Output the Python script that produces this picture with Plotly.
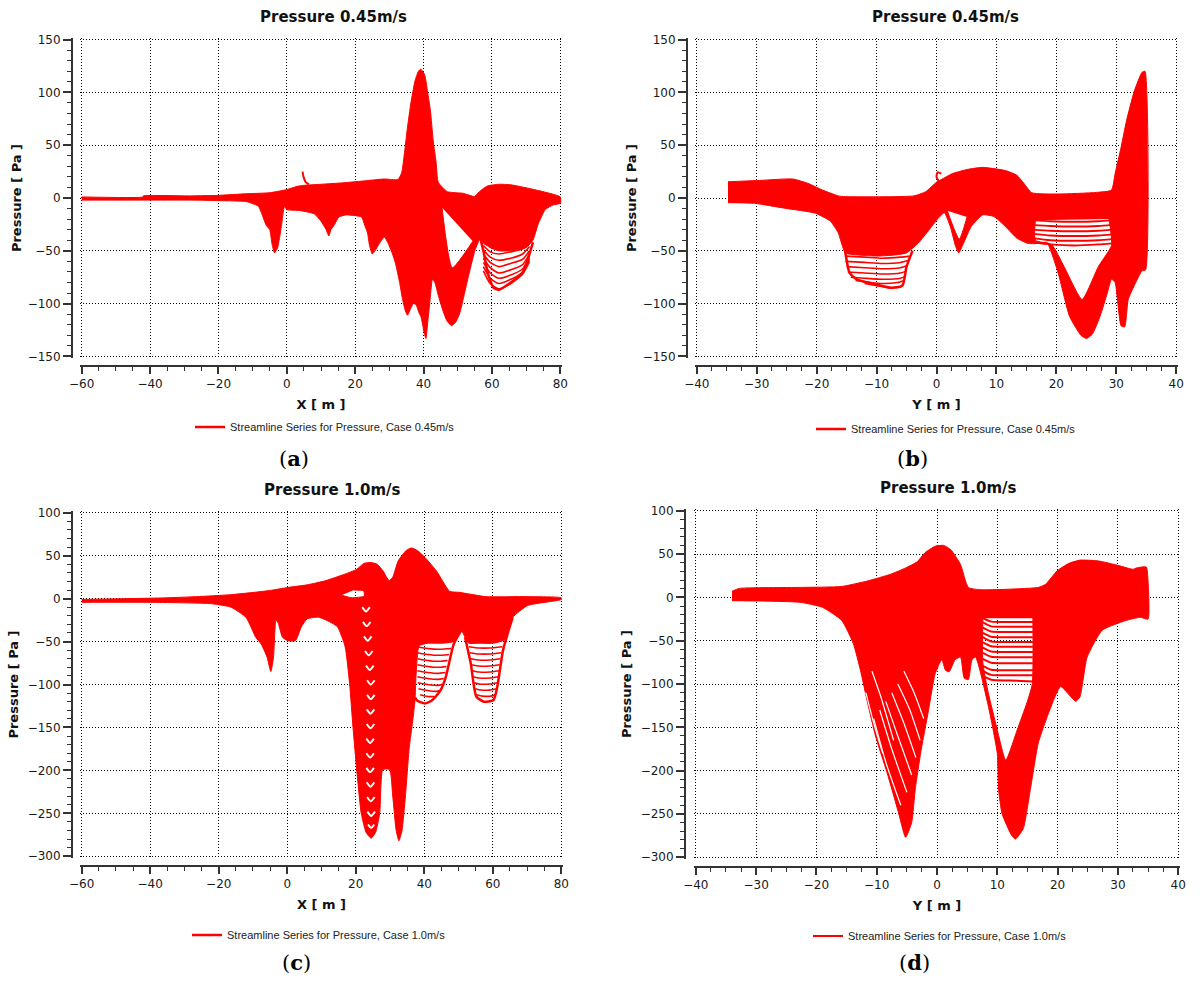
import plotly.graph_objects as go

RED = "#ff0000"

# ---------------- Panel (a): Pressure 0.45 m/s vs X ----------------
a_body_x = [-60, -42, -42, -28, -20, -12, -5, 0, 3, 5, 10, 17, 22, 28.6, 32.5, 33.6, 34.5, 35.3, 36.3, 37.5,
            38.5, 39.2, 40.3, 41.2, 42, 42.8, 43.7, 44.3, 47, 51.5, 54.9, 56, 57.5, 58.8, 62, 65.5, 73, 80,
            80, 78, 75.6, 73.5, 72, 70, 66, 62, 59.5, 57.2, 56.6, 55, 53, 52, 50.5, 49.3, 48.2, 46.8, 45.5, 44.3,
            43.3, 42.6, 41.8, 41.3, 40.7, 40.2, 39.8, 39.2, 38.7, 37.8, 37, 36.2, 35.3, 34.7, 33.8, 33, 31.8, 30.8,
            29.5, 28.6, 27.7, 26.9, 25.8, 25, 24.2, 23.6, 22.6, 21.9, 19.5, 17.4, 15.2, 14, 12.9, 12.3, 11.5, 10,
            8, 4, 0, -0.7, -1.6, -2.7, -3.6, -4.3, -5, -6, -8.3, -11.7, -20, -28, -42, -60]
a_body_y = [1, 1, 2, 2, 2.5, 4, 5, 8, 11, 12, 13, 14.5, 16, 18, 17.5, 24, 45, 67, 90, 111,
            120, 122, 117, 100, 83, 55, 33, 15, 6, 4.5, 1.5, 5, 9, 11.5, 13, 12.5, 7.5, 1,
            -5, -6.5, -11, -25, -40, -47, -50, -50, -47, -42, -38, -50, -76, -90, -110, -118, -121, -116, -105, -92,
            -80, -77, -100, -115, -133, -128, -121, -112, -109, -101, -100, -105, -111, -107, -95, -80, -62, -52,
            -42, -37, -40, -44, -50, -53, -45, -33, -24, -18, -16.5, -16, -18, -25, -30, -36, -30, -22,
            -15, -12, -11, -8, -27, -47, -52, -44, -30, -26, -8, -3.5, -2.5, -2, -2, -2]
a_hole_x = [45.4, 48.4, 54.4]
a_hole_y = [-9, -66, -41]
a_spike_x = [4.6, 4.9, 5.5, 6.5]
a_spike_y = [25, 20, 15, 13]
a_lobe_x = [56.6, 57.5, 58.8, 60.5, 62, 65.5, 68.9, 70.5, 72]
a_lobe_y = [-38, -50, -71, -85, -87, -80, -71, -58, -42]
a_stripe_x = [57.5, 59.5, 62, 65.5, 69, 71]
a_stripe_y = [[-45, -51, -53, -51, -48, -42],
              [-49, -56, -59, -57, -53, -46],
              [-53, -61, -65, -62, -58, -50],
              [-57, -66, -71, -68, -63, -53],
              [-61, -71, -76, -73, -67, -56],
              [-65, -76, -81, -77, -70, -58],
              [-69, -81, -86, -81, -72, -60]]

# ---------------- Panel (b): Pressure 0.45 m/s vs Y ----------------
b_body_x = [-34.8, -30, -24, -21.5, -19, -16.4, -15.2, -3.8, -1.8, 0, 1.3, 2.6, 5.1, 7.7, 11.5, 13.4, 14.6,
            15.9, 20.3, 26.7, 29.2, 29.8, 30.8, 31.7, 33, 34.3, 34.8,
            34.9, 34.3, 33, 32, 31.4, 30.8, 29.8, 29.2, 28.5, 27.3, 26, 25, 24.1, 22.2, 20.3, 18.4, 17.2, 15.3,
            13.4, 11.5, 9.6, 7.7, 5.8, 4.5, 3.7, 3.2, 2.3, 1.3, 0, -1.2, -3.1, -5, -7, -10, -13, -15.2, -16.4,
            -17.7, -20.2, -25.3, -30.4, -34.8]
b_body_y = [15.4, 16.5, 18, 14, 7.5, 2, 1.3, 2, 6, 15, 19, 23, 27, 29, 26, 21.6, 13.8,
            5, 3.8, 5.3, 7.5, 23, 48, 73, 101, 119, 120,
            -68, -69, -83, -96, -122, -121, -80, -77, -90, -112, -129, -133, -130, -112, -71, -42, -43, -43,
            -38, -27, -17.6, -16, -27, -43, -52, -46, -27, -14, -21, -30, -43, -52, -54, -55, -54, -52, -33,
            -22, -14.4, -9.7, -5, -4.4]
b_hole1_x = [1.8, 3.8, 5.1]
b_hole1_y = [-12, -39, -18]
b_hole2_x = [16.5, 16.5, 19.2, 21.3, 24.3, 27, 29.2, 28.8]
b_hole2_y = [-21, -40, -44, -65, -96, -65, -45, -20]
b_spike_x = [0.5, 0, 0.2, 0.8]
b_spike_y = [15, 20, 24.5, 23]
b_rstripe_x = [16, 19, 23, 27, 29.3]
b_rstripe_y = [[-21, -22, -22.5, -22, -21],
               [-25.5, -26.5, -27, -26.5, -25.5],
               [-30, -31, -31.5, -31, -30],
               [-34, -35.5, -36, -35.5, -34.5],
               [-38, -40, -40.5, -40, -39],
               [-42, -44, -45, -44, -43]]
b_lobe_x = [-15.5, -15.2, -14.5, -13.3, -10, -7.6, -5.7, -5, -4]
b_lobe_y = [-40, -52, -71, -77, -82, -85, -83, -65, -50]
b_lstripe_x = [[-15.2, -12, -9, -6, -4.5],
               [-15.2, -12, -9, -6, -4.6],
               [-15, -12, -9, -6, -4.8],
               [-14.8, -12, -9, -6, -5],
               [-14.3, -12, -9, -6, -5.2],
               [-13.5, -11, -9, -6.5, -5.4],
               [-12, -10, -7.6, -6, -5.6]]
b_lstripe_y = [[-55, -56, -57, -56, -55],
               [-60, -61, -62, -61, -59],
               [-65, -66, -67, -66, -64],
               [-70, -71, -72, -71, -69],
               [-75, -76, -77, -76, -74],
               [-78, -80, -81, -80, -78],
               [-81, -83, -85, -84, -82]]

# ---------------- Panel (c): Pressure 1.0 m/s vs X ----------------
c_body_x = [-60, -36.4, -26.4, -16.4, -5.3, 0.2, 5.8, 11.3, 16.9, 20.2, 22.4, 24.5, 26.3, 28, 29.7, 30.8, 32.4,
            34.7, 36.3, 38, 40.2, 43.6, 47.4, 50.2, 58, 70.2, 80,
            80, 70.2, 65.8, 63.5, 60, 56, 53, 51.9, 50.8, 48.6, 45, 41, 38.5, 37.6, 37.3, 36.6, 35.6, 34.5, 33.5,
            32.6, 31.8, 30.8, 29.9, 27.9, 27, 25.8, 24.5, 23, 21.6, 20.3, 19.2, 18.2, 16.9, 14.7, 12.4, 9.1,
            5.8, 4.1, 2.4, 0.2, -1.4, -2.6, -3.3, -4, -4.8, -5.9, -7.6, -9.2, -12, -16.4, -22, -40, -60]
c_body_y = [-1, 0.8, 2.3, 4.6, 9.3, 13, 16, 21, 28.6, 34, 41, 42, 40, 32, 21, 25, 44,
            56, 59, 56, 48, 32, 8.5, 7.3, 2.3, 2.3, 1,
            -1, -8, -22, -48, -52, -52, -52, -45, -37, -50, -52, -52, -55, -90, -118, -143, -174, -230, -270,
            -282, -270, -230, -199, -199, -250, -272, -279, -272, -250, -200, -150, -99, -56, -33, -27, -21.6,
            -23.6, -33, -49, -49, -45, -29, -25, -68, -85, -68, -53, -45, -22, -10, -6, -4.3, -4.3]
c_hole_x = [15.8, 19, 22.5, 22.3, 19.5]
c_hole_y = [4, 1, 3, 9, 10]
c_chev_x = [[21.9, 23.0, 24.1], [22.1, 23.2, 24.3], [22.4, 23.5, 24.6], [22.7, 23.8, 24.9],
            [23.0, 24.1, 25.2], [23.3, 24.4, 25.5], [23.3, 24.4, 25.5], [23.2, 24.3, 25.4],
            [23.2, 24.3, 25.4], [23.1, 24.2, 25.3], [23.1, 24.2, 25.3], [23.1, 24.2, 25.3],
            [23.2, 24.3, 25.4], [23.3, 24.4, 25.5], [23.4, 24.5, 25.6], [23.6, 24.5, 25.4]]
c_chev_y = [[-10, -15, -10], [-27, -32, -27], [-44, -49, -44], [-61, -66, -61],
            [-78, -83, -78], [-95, -100, -95], [-112, -117, -112], [-129, -134, -129],
            [-146, -151, -146], [-163, -168, -163], [-180, -185, -180], [-197, -202, -197],
            [-214, -219, -214], [-231, -236, -231], [-248, -253, -248], [-263, -267, -263]]
c_lobe1_x = [37.3, 38, 40.2, 42.4, 44.7, 46.3, 48.6, 50.8]
c_lobe1_y = [-115, -119, -122, -118, -107, -91, -53, -37]
c_stripe1_x = [[37.8, 41, 44, 47.8], [37.9, 41, 44, 47.2], [38.0, 41, 44, 46.8], [38.0, 41, 44, 46.5],
               [38.0, 41, 44, 46.2], [38.0, 41, 44, 45.7], [38.1, 41, 44, 45.2], [38.3, 41, 43.5, 44.8],
               [38.8, 41, 43]]
c_stripe1_y = [[-56, -58, -59, -58], [-63, -65, -66, -65], [-70, -72, -73, -72], [-77, -79, -80, -79],
               [-84, -86, -87, -86], [-91, -93, -94, -93], [-98, -100, -101, -100], [-105, -107, -108, -107],
               [-112, -114, -114]]
c_lobe2_x = [51.9, 53.6, 55.2, 57.4, 60.2, 61.3, 63, 65.8]
c_lobe2_y = [-45, -76, -114, -120, -118, -103, -60, -22]
c_stripe2_x = [[53.0, 56, 59, 62.8], [53.3, 56, 59, 62.5], [53.5, 56, 59, 62.2], [53.7, 56, 59, 62],
               [54.0, 56, 59, 61.8], [54.3, 56, 59, 61.6], [54.6, 56, 59, 61.4], [54.9, 56.5, 59, 61.2],
               [55.2, 57, 59.5, 60.8]]
c_stripe2_y = [[-56, -57.5, -57.5, -56], [-63, -64.5, -64.5, -63], [-70, -71.5, -71.5, -70],
               [-77, -78.5, -78.5, -77], [-84, -85.5, -85.5, -84], [-91, -92.5, -92.5, -91],
               [-98, -99.5, -99.5, -98], [-105, -106.5, -106.5, -105], [-112, -113.5, -113.5, -112]]

# ---------------- Panel (d): Pressure 1.0 m/s vs Y ----------------
d_body_x = [-34, -32.8, -22.7, -15.8, -11.5, -7.7, -5.2, -3.3, -2, -0.3, 1.1, 2.3, 3.9, 5.2, 7.4, 16.8, 18,
            19.9, 21.8, 23.7, 26.8, 30, 32.5, 33.1, 34.7, 35, 35,
            33.7, 31.2, 27.4, 24.9, 23.7, 23, 20.5, 18.7, 16.8, 15.5, 14.3, 13, 12.4, 10.8, 10.2, 10.0, 8.4,
            6.4, 5.8, 5.2, 4.5, 3.9, 3.0, 2.0, 1.4, 0.8, -0.3, -1.4, -2.7, -3.6, -4.2, -5.2, -6.4, -8.3, -10.2,
            -11.5, -12.7, -13.9, -15.8, -19, -22.7, -34]
d_body_y = [7, 10.3, 11.5, 12.6, 19, 26.7, 34, 41, 51.5, 59, 60, 55, 38, 11.5, 8.8, 11.5, 15,
            30.5, 39, 43, 42, 37, 32.4, 34, 35, 19, -25,
            -23, -27, -38, -69, -115, -120, -103, -130, -168, -221, -267, -279, -275, -250, -221, -180, -122,
            -69, -72, -95, -93, -69, -72, -86, -84, -72, -88, -130, -179, -221, -260, -277, -248, -202, -160,
            -122, -84, -53, -26.7, -11.5, -5.7, -3.8]
d_hole_x = [7.6, 7.6, 8.5, 9.9, 11.4, 13.3, 14.9, 15.8, 15.9]
d_hole_y = [-24, -75, -110, -150, -188, -153, -122, -100, -24]
d_stripe_x = [7.6, 9.0, 12.0, 15.9]
d_stripe_y = [[-24, -28, -28.5, -28.5], [-29, -33.5, -34, -34], [-35, -39.5, -40, -40],
              [-41, -45.5, -46, -46], [-46, -51, -51.5, -51.5], [-52, -56.5, -57, -57],
              [-58, -62.5, -63, -63], [-64, -68.5, -69, -69], [-71, -75.5, -76, -76],
              [-79, -83.5, -84, -84], [-85, -89.5, -90, -90], [-91, -95, -96, -97]]
d_streak_x = [[-10.5, -8.5, -6.0], [-9.5, -7.5, -5.0], [-8.5, -6.5, -4.2], [-7.5, -5.5, -3.5],
              [-6.5, -4.5, -2.8], [-11.8, -10.5, -9.0], [-5.5, -3.8, -2.2], [-10.8, -9.3, -7.2]]
d_streak_y = [[-140, -190, -240], [-130, -175, -225], [-120, -160, -205], [-110, -145, -185],
              [-100, -130, -165], [-110, -145, -180], [-85, -110, -140], [-85, -115, -165]]

# ---------------- text ----------------
titles = ["Pressure 0.45m/s", "Pressure 0.45m/s", "Pressure 1.0m/s", "Pressure 1.0m/s"]
x_titles = ["X [ m ]", "Y [ m ]", "X [ m ]", "Y [ m ]"]
y_title = "Pressure [ Pa ]"
legend_names = ["Streamline Series for Pressure, Case 0.45m/s", "Streamline Series for Pressure, Case 0.45m/s",
                "Streamline Series for Pressure, Case 1.0m/s", "Streamline Series for Pressure, Case 1.0m/s"]
panel_labels = ["a", "b", "c", "d"]

fig = go.Figure()
axes_ids = [("x", "y"), ("x2", "y2"), ("x3", "y3"), ("x4", "y4")]
legend_ids = ["legend", "legend2", "legend3", "legend4"]


def add_fill(p, xs, ys):
    xa, ya = axes_ids[p]
    fig.add_trace(go.Scatter(x=xs, y=ys, mode="lines", fill="toself", fillcolor=RED,
                             line=dict(color=RED, width=1, shape="spline", smoothing=0.5),
                             xaxis=xa, yaxis=ya, hoverinfo="skip", showlegend=False))


def add_line(p, xs, ys, width=2, legend=False, color=RED):
    xa, ya = axes_ids[p]
    fig.add_trace(go.Scatter(x=xs, y=ys, mode="lines",
                             line=dict(color=color, width=width, shape="spline", smoothing=0.6),
                             xaxis=xa, yaxis=ya, name=legend_names[p], legend=legend_ids[p],
                             showlegend=legend, hoverinfo="skip"))


# panel a
add_fill(0, a_body_x + [None] + a_hole_x, a_body_y + [None] + a_hole_y)
add_line(0, a_spike_x, a_spike_y, 2)
for ys in a_stripe_y:
    add_line(0, a_stripe_x, ys, 1.6)
add_line(0, a_lobe_x, a_lobe_y, 2.5, legend=True)

# panel b
add_fill(1, b_body_x + [None] + b_hole1_x + [None] + b_hole2_x,
         b_body_y + [None] + b_hole1_y + [None] + b_hole2_y)
add_line(1, b_spike_x, b_spike_y, 2)
for ys in b_rstripe_y:
    add_line(1, b_rstripe_x, ys, 1.8)
for xs, ys in zip(b_lstripe_x, b_lstripe_y):
    add_line(1, xs, ys, 1.6)
add_line(1, b_lobe_x, b_lobe_y, 2.5, legend=True)

# panel c
add_fill(2, c_body_x + [None] + c_hole_x, c_body_y + [None] + c_hole_y)
for xs, ys in zip(c_chev_x, c_chev_y):
    add_line(2, xs, ys, 2, color="white")
for xs, ys in zip(c_stripe1_x, c_stripe1_y):
    add_line(2, xs, ys, 1.6)
for xs, ys in zip(c_stripe2_x, c_stripe2_y):
    add_line(2, xs, ys, 1.6)
add_line(2, c_lobe1_x, c_lobe1_y, 2.5)
add_line(2, c_lobe2_x, c_lobe2_y, 2.5, legend=True)

# panel d
add_fill(3, d_body_x + [None] + d_hole_x, d_body_y + [None] + d_hole_y)
for xs, ys in zip(d_streak_x, d_streak_y):
    add_line(3, xs, ys, 1.2, color="white")
for i, ys in enumerate(d_stripe_y):
    add_line(3, d_stripe_x, ys, 2, legend=(i == 0))

# ---------------- layout ----------------
H = 982.0
W = 1200.0
AX = "#333333"
tickfont = dict(family="DejaVu Sans", size=12, color="#1a1a1a")
titlefont = dict(family="DejaVu Sans", size=13, color="#111111", weight="bold")


def axis(dom, rng, t0, dt, mdt, pos, title, tlen, standoff):
    return dict(domain=dom, range=rng, anchor="free", position=pos, tick0=t0, dtick=dt,
                ticks="outside", ticklen=tlen, tickwidth=1.5, tickcolor=AX, automargin=False,
                showline=True, linecolor=AX, linewidth=2, showgrid=True, gridcolor="#000000",
                griddash="1px,2px", gridwidth=1, zeroline=False, tickfont=tickfont,
                minor=dict(dtick=mdt, tick0=t0, ticks="outside", ticklen=4, tickwidth=1.2, tickcolor=AX,
                           showgrid=False),
                title=dict(text=title, font=titlefont, standoff=standoff))


layout = dict(
    width=1200, height=982, margin=dict(l=0, r=0, t=0, b=0, autoexpand=False),
    paper_bgcolor="white", plot_bgcolor="white", showlegend=True,
    xaxis=axis([80 / W, 562 / W], [-60.5, 80.5], -60, 20, 5, 1 - 366 / H, x_titles[0], 7, 8),
    yaxis=axis([1 - 358 / H, 1 - 38 / H], [-151.5, 151.5], -150, 50, 10, 72 / W, y_title, 8, 2),
    xaxis2=axis([695 / W, 1178 / W], [-40.3, 40.3], -40, 10, 2.5, 1 - 366 / H, x_titles[1], 7, 8),
    yaxis2=axis([1 - 358 / H, 1 - 38 / H], [-151.5, 151.5], -150, 50, 10, 687 / W, y_title, 8, 2),
    xaxis3=axis([80 / W, 563 / W], [-60.5, 80.5], -60, 20, 5, 1 - 866 / H, x_titles[2], 7, 8),
    yaxis3=axis([1 - 858 / H, 1 - 511 / H], [-302, 102], -300, 50, 10, 72 / W, y_title, 8, 5),
    xaxis4=axis([694 / W, 1180 / W], [-40.3, 40.3], -40, 10, 2.5, 1 - 867 / H, x_titles[3], 7, 8),
    yaxis4=axis([1 - 859 / H, 1 - 509 / H], [-302, 102], -300, 50, 10, 685 / W, y_title, 8, 5),
)

leg_pos = [(325, 427), (946, 429), (319, 935), (940, 936)]
for lid, (lx, ly) in zip(legend_ids, leg_pos):
    layout[lid] = dict(x=lx / W, y=1 - ly / H, xanchor="center", yanchor="middle", orientation="h",
                       font=dict(family="Liberation Sans", size=11, color="#222222"),
                       itemwidth=30, bgcolor="rgba(0,0,0,0)", borderwidth=0)

fig.update_layout(**layout)

title_pos = [(333, 17), (945, 17), (332, 490), (948, 488)]
for t, (tx, ty) in zip(titles, title_pos):
    fig.add_annotation(x=tx / W, y=1 - ty / H, xref="paper", yref="paper", text=t, showarrow=False,
                       font=dict(family="DejaVu Sans", size=15, color="#111111", weight="bold"),
                       xanchor="center", yanchor="middle")

label_pos = [(294, 459), (912, 459), (296, 962), (914, 962)]
for lab, (lx, ly) in zip(panel_labels, label_pos):
    fig.add_annotation(x=lx / W, y=1 - ly / H, xref="paper", yref="paper", text="(<b>" + lab + "</b>)",
                       showarrow=False, font=dict(family="DejaVu Serif", size=21, color="#000000"),
                       xanchor="center", yanchor="middle")

fig.write_html("out.html")
